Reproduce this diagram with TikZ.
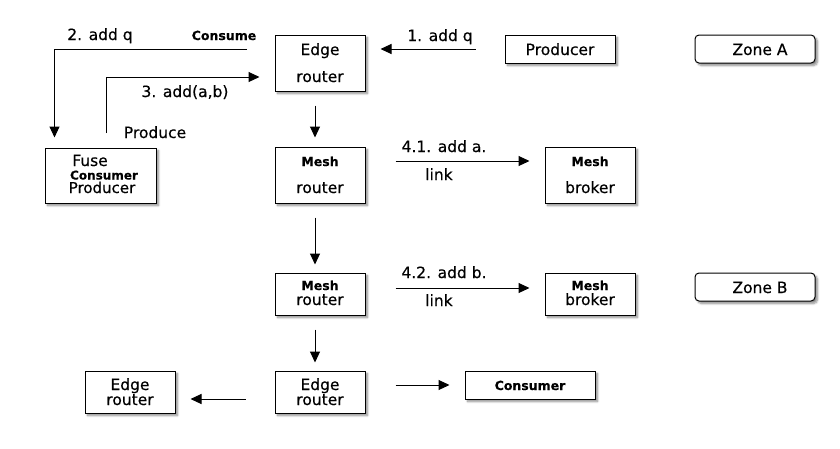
\documentclass[tikz,border=0pt]{standalone}
\usepackage{fontspec}
\setmainfont{DejaVu Sans}[FakeBold=0.35]
\usetikzlibrary{arrows.meta,shadows.blur}
\begin{document}
\begin{tikzpicture}[x=1pt,y=-1pt,
  boxs/.style={draw, line width=1pt, fill=white, inner sep=0pt,
    blur shadow={shadow xshift=2.5pt, shadow yshift=-2.5pt, shadow blur steps=6, shadow blur radius=2pt, shadow opacity=45}},
  zonebox/.style={boxs, rounded corners=4pt},
  lbl/.style={font=\fontsize{15.5}{18}\selectfont, inner sep=0pt, anchor=base},
  slbl/.style={font=\fontsize{12.5}{15}\selectfont\bfseries, inner sep=0pt, anchor=base},
  arr/.style={line width=1pt, -{Triangle[length=11pt,width=10pt]}}]
\useasboundingbox (0,0) rectangle (840,448);
% boxes
\node[boxs, minimum width=90pt, minimum height=56pt] (er1) at (320,63) {};
\node[boxs, minimum width=110pt, minimum height=28pt] (prod) at (560,49) {};
\node[zonebox, minimum width=120pt, minimum height=28pt] (za) at (755,49) {};
\node[boxs, minimum width=111pt, minimum height=55pt] (fuse) at (100.5,175.5) {};
\node[boxs, minimum width=90pt, minimum height=56pt] (mr1) at (320,175) {};
\node[boxs, minimum width=90pt, minimum height=56pt] (mb1) at (590,175) {};
\node[boxs, minimum width=90pt, minimum height=42pt] (mr2) at (320,294) {};
\node[boxs, minimum width=90pt, minimum height=42pt] (mb2) at (590,294) {};
\node[zonebox, minimum width=120pt, minimum height=28pt] (zb) at (755,287) {};
\node[boxs, minimum width=90pt, minimum height=42pt] (eb) at (320,392) {};
\node[boxs, minimum width=90pt, minimum height=42pt] (el) at (130,392) {};
\node[boxs, minimum width=130pt, minimum height=28pt] (cons) at (530,385) {};
% box texts
\node[lbl] (t1) at (320,55) {Edge};
\node[lbl] (t2) at (320,82) {router};
\node[lbl] (t3) at (560,55) {Producer};
\node[lbl] (t4) at (760,55) {Zone A};
\node[lbl] (t5) at (90,166) {Fuse};
\node[slbl, font=\fontsize{12}{14}\selectfont\bfseries] (t6) at (104,179.5) {Consumer};
\node[lbl, font=\fontsize{15}{18}\selectfont] (t7) at (102,193) {Producer};
\node[slbl] (t8) at (320,166) {Mesh};
\node[lbl] (t9) at (320,193) {router};
\node[slbl] (t10) at (590,166) {Mesh};
\node[lbl] (t11) at (590,193) {broker};
\node[slbl] (t12) at (320,290) {Mesh};
\node[lbl] (t13) at (320,305) {router};
\node[slbl] (t14) at (590,290) {Mesh};
\node[lbl] (t15) at (590,305) {broker};
\node[lbl] (t16) at (760,293) {Zone B};
\node[lbl] (t17) at (320,390) {Edge};
\node[lbl] (t18) at (320,405) {router};
\node[lbl] (t19) at (130,390) {Edge};
\node[lbl] (t20) at (130,405) {router};
\node[slbl] (t21) at (530,390) {Consumer};
% connector labels
\node[lbl] (l1) at (440,41) {1. add q};
\node[lbl] (l2) at (100,40) {2. add q};
\node[slbl] (l3) at (224,40) {Consume};
\node[lbl] (l4) at (185,97) {3. add(a,b)};
\node[lbl] (l5) at (155,138) {Produce};
\node[lbl] (l6) at (444,152) {4.1. add a.};
\node[lbl] (l7) at (439,180) {link};
\node[lbl] (l8) at (444,278) {4.2. add b.};
\node[lbl] (l9) at (439,306) {link};
% connectors
\draw[arr, shorten <=29pt, shorten >=15pt] (prod.west) -- (prod.west -| er1.east);
\coordinate (a2s) at (247,49);
\draw[arr] (a2s) -| ([xshift=10pt, yshift=10pt]fuse.north west);
\coordinate (a3s) at (106,133);
\draw[arr] (a3s) |- ([xshift=-15pt, yshift=-14pt]er1.west);
\draw[arr, shorten <=14pt, shorten >=9pt] ([xshift=-5pt]er1.south) -- ([xshift=-5pt]mr1.north);
\draw[arr, shorten <=30pt, shorten >=15pt] ([yshift=14pt]mr1.east) -- ([yshift=14pt]mr1.east -| mb1.west);
\draw[arr, shorten <=14pt, shorten >=8pt] ([xshift=-5pt]mr1.south) -- ([xshift=-5pt]mr2.north);
\draw[arr, shorten <=30pt, shorten >=15pt] ([yshift=6pt]mr2.east) -- ([yshift=6pt]mr2.east -| mb2.west);
\draw[arr, shorten <=14pt, shorten >=8pt] ([xshift=-5pt]mr2.south) -- ([xshift=-5pt]eb.north);
\draw[arr, shorten <=29pt, shorten >=15pt] ([yshift=-7pt]eb.west) -- ([yshift=-7pt]el.east);
\draw[arr, shorten <=30pt, shorten >=15pt] (eb.east |- cons.west) -- (cons.west);
\end{tikzpicture}
\end{document}
